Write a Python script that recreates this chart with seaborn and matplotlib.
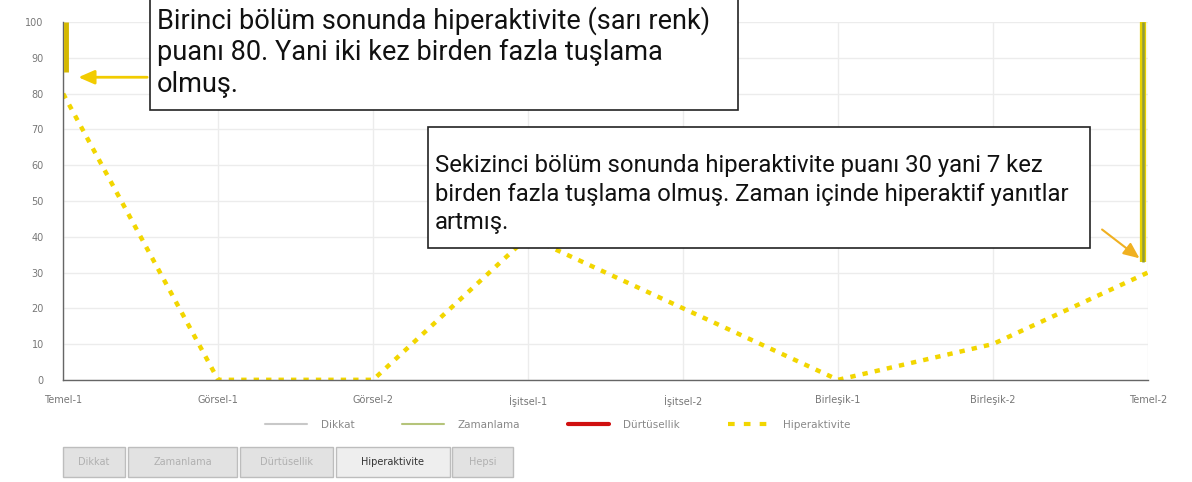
import matplotlib
matplotlib.use("Agg")
import matplotlib.pyplot as plt
from matplotlib.lines import Line2D
from matplotlib.patches import Rectangle
import seaborn as sns
import pandas as pd

# chart data
sections = ["Temel-1", "Görsel-1", "Görsel-2", "İşitsel-1", "İşitsel-2",
            "Birleşik-1", "Birleşik-2", "Temel-2"]
hiperaktivite = [80, 0, 0, 40, 20, 0, 10, 30]
series_names = ["Dikkat", "Zamanlama", "Dürtüsellik", "Hiperaktivite"]
series_colors = ["#c8c8c8", "#b5c47a", "#d01010", "#f2d600"]
buttons = ["Dikkat", "Zamanlama", "Dürtüsellik", "Hiperaktivite", "Hepsi"]
note1 = ("Birinci bölüm sonunda hiperaktivite (sarı renk)\n"
         "puanı 80. Yani iki kez birden fazla tuşlama\nolmuş.")
note2 = ("Sekizinci bölüm sonunda hiperaktivite puanı 30 yani 7 kez\n"
         "birden fazla tuşlama olmuş. Zaman içinde hiperaktif yanıtlar\nartmış.")

df = pd.DataFrame({"x": range(len(sections)), "y": hiperaktivite})

sns.set_theme(style="white")
plt.rcParams["font.family"] = ["DejaVu Sans"]

fig = plt.figure(figsize=(11.92, 4.82), dpi=100)
ax = fig.add_axes([0.053, 0.212, 0.910, 0.742])

ax.set_axisbelow(True)
ax.grid(True, color="#ececec", lw=1)
sns.lineplot(data=df, x="x", y="y", ax=ax, color=series_colors[3], lw=3.2,
             linestyle=(0, (1.2, 1.6)), legend=False)

# highlight marks drawn on top of the screenshot
ax.vlines(0.02, 86, 100, color="#d4b800", lw=3.5, zorder=4)
ax.vlines(6.97, 33, 100, color="#e6d000", lw=4.5, zorder=4)
ax.vlines(6.97, 33, 100, color="#8f9a3c", lw=1.8, zorder=5)

ax.set_xlim(0, len(sections) - 1)
ax.set_ylim(0, 100)
ax.set_xticks(range(len(sections)))
ax.set_xticklabels(sections)
ax.set_yticks(range(0, 101, 10))
ax.set_xlabel("")
ax.set_ylabel("")
ax.tick_params(axis="both", labelsize=7, colors="#777", length=5, width=0.8)
ax.tick_params(axis="y", pad=9)
ax.tick_params(axis="x", pad=6)
for s in ["top", "right"]:
    ax.spines[s].set_visible(False)
for s in ["left", "bottom"]:
    ax.spines[s].set_color("#666")
    ax.spines[s].set_linewidth(1)

# legend
handles = [
    Line2D([], [], color=series_colors[0], lw=1.5),
    Line2D([], [], color=series_colors[1], lw=1.5),
    Line2D([], [], color=series_colors[2], lw=3),
    Line2D([], [], color=series_colors[3], lw=3, linestyle=(0, (1.6, 2.2))),
]
fig.legend(handles, series_names, loc="center", bbox_to_anchor=(0.468, 0.118),
           ncol=4, frameon=False, fontsize=7.5, labelcolor="#888",
           handlelength=4.0, columnspacing=4.6, handletextpad=1.3)

# buttons
bx = [63, 128, 240, 336, 452]
bw = [62, 109, 93, 114, 61]
for name, x0, w in zip(buttons, bx, bw):
    active = name == "Hiperaktivite"
    fig.patches.append(Rectangle((x0 / 1192, 5 / 482), w / 1192, 30 / 482,
                                 transform=fig.transFigure,
                                 facecolor="#eeeeee" if active else "#e2e2e2",
                                 edgecolor="#bdbdbd", lw=1))
    fig.text((x0 + w / 2) / 1192, 20 / 482, name, ha="center", va="center",
             fontsize=7, color="#333" if active else "#b0b0b0")

# note boxes
fig.patches.append(Rectangle((150 / 1192, 372 / 482), 588 / 1192, 112 / 482,
                             transform=fig.transFigure, facecolor="white",
                             edgecolor="#222", lw=1.2, zorder=10))
fig.text(157 / 1192, 430 / 482, note1, fontsize=19.5, family="Roboto",
         color="#111", va="center", ha="left", linespacing=1.2, zorder=11)
fig.patches.append(Rectangle((428 / 1192, 234 / 482), 662 / 1192, 121 / 482,
                             transform=fig.transFigure, facecolor="white",
                             edgecolor="#222", lw=1.2, zorder=10))
fig.text(435 / 1192, 288 / 482, note2, fontsize=17.2, family="Roboto",
         color="#111", va="center", ha="left", linespacing=1.33, zorder=11)

ax.annotate("", xy=(0.08, 84.6), xytext=(0.56, 84.6),
            arrowprops=dict(arrowstyle="-|>,head_width=0.35,head_length=0.8",
                            color="#f2cc00", lw=2))
ax.annotate("", xy=(6.96, 33.5), xytext=(6.69, 42.5),
            arrowprops=dict(arrowstyle="-|>,head_width=0.35,head_length=0.8",
                            color="#f0b020", lw=1.5))

fig.savefig("out.png", dpi=100)
